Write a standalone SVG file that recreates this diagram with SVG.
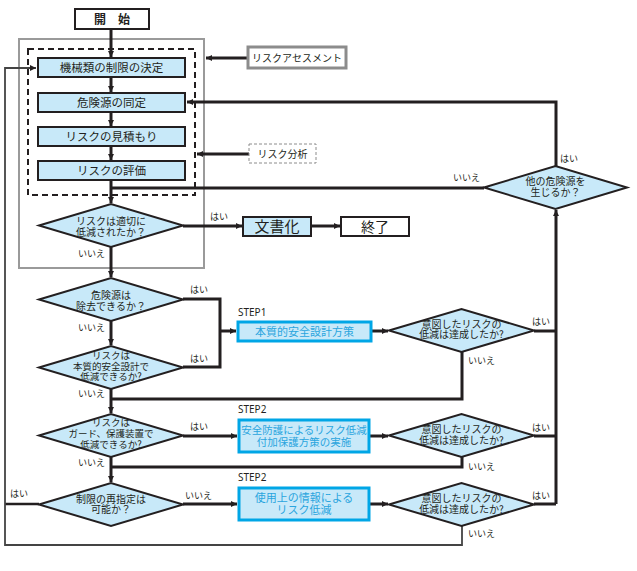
<svg xmlns="http://www.w3.org/2000/svg" width="637" height="571" viewBox="0 0 637 571">
<defs>
<marker id="ah" markerUnits="userSpaceOnUse" markerWidth="7" markerHeight="7" refX="6" refY="3" orient="auto">
<path d="M0,0 L6,3 L0,6 z" fill="#231f20"/>
</marker>
<style>
.box{fill:#c8e9f9;stroke:#231f20;stroke-width:2}
.wbox{fill:#ffffff;stroke:#231f20;stroke-width:2}
.sbox{fill:#c8e9f9;stroke:#00a6e6;stroke-width:3}
.dia{fill:#c8e9f9;stroke:#231f20;stroke-width:2}
.ln{fill:none;stroke:#231f20;stroke-width:3}
.thin{fill:none;stroke:#444;stroke-width:1.8}
text{font-family:"Noto Sans CJK JP","Noto Sans",sans-serif;fill:#231f20}
.t{font-size:11.5px;text-anchor:middle}
.d{font-size:10px;text-anchor:middle}
.d3{font-size:9.5px;text-anchor:middle}
.s{font-size:11px;text-anchor:middle;fill:#2aa5de}
.lb{font-size:9px}
.step{font-size:10px;font-family:"Noto Sans",sans-serif}
</style>
</defs>
<rect x="19" y="39" width="185" height="229" fill="none" stroke="#9a9a9a" stroke-width="2"/>
<rect x="28" y="49" width="167" height="146" fill="none" stroke="#231f20" stroke-width="2" stroke-dasharray="6 4"/>
<g id="connectors">
<path class="ln" d="M111,29 V57" marker-end="url(#ah)"/>
<path class="ln" d="M111,77 V92" marker-end="url(#ah)"/>
<path class="ln" d="M111,112 V126" marker-end="url(#ah)"/>
<path class="ln" d="M111,146 V160" marker-end="url(#ah)"/>
<path class="ln" d="M111,180 V203" marker-end="url(#ah)"/>
<path class="ln" d="M183,226 H242" marker-end="url(#ah)"/>
<path class="ln" d="M311,226 H340" marker-end="url(#ah)"/>
<path class="ln" d="M111,247 V277" marker-end="url(#ah)"/>
<path class="ln" d="M183,299 H220 V367 H183"/>
<path class="ln" d="M220,331 H236" marker-end="url(#ah)"/>
<path class="ln" d="M111,321 V345" marker-end="url(#ah)"/>
<path class="ln" d="M111,389 V413" marker-end="url(#ah)"/>
<path class="ln" d="M462,352 V399 H111"/>
<path class="ln" d="M372,331 H388" marker-end="url(#ah)"/>
<path class="ln" d="M534,331 H556"/>
<path class="ln" d="M556,504 V210" marker-end="url(#ah)"/>
<path class="ln" d="M556,166 V102 H187" marker-end="url(#ah)"/>
<path class="ln" d="M484,188 H111"/>
<path class="ln" d="M248,58 H206" marker-end="url(#ah)"/>
<path class="ln" d="M249,154 H197" marker-end="url(#ah)"/>
<path class="ln" d="M183,436 H237" marker-end="url(#ah)"/>
<path class="ln" d="M370,436 H388" marker-end="url(#ah)"/>
<path class="ln" d="M534,436 H556"/>
<path class="ln" d="M462,457 V467 H111"/>
<path class="ln" d="M111,457 V482" marker-end="url(#ah)"/>
<path class="ln" d="M183,504 H237" marker-end="url(#ah)"/>
<path class="ln" d="M370,504 H388" marker-end="url(#ah)"/>
<path class="ln" d="M534,504 H556"/>
<path class="ln" style="stroke-width:2.5" d="M39,504 H5"/>
<path class="thin" d="M462,526 V545 H5 V68 H36" marker-end="url(#ah)"/>
</g>
<g id="start"><rect class="wbox" x="75" y="9" width="74" height="20"/><text class="t" x="112" y="23.5" style="font-weight:bold;font-size:12px">開　始</text></g>
<g id="n1"><rect class="box" x="38" y="58" width="147" height="19"/><text class="t" x="111.5" y="71.5">機械類の制限の決定</text></g>
<g id="n2"><rect class="box" x="38" y="93" width="147" height="19"/><text class="t" x="111.5" y="106.5">危険源の同定</text></g>
<g id="n3"><rect class="box" x="38" y="127" width="147" height="19"/><text class="t" x="111.5" y="140.5">リスクの見積もり</text></g>
<g id="n4"><rect class="box" x="38" y="161" width="147" height="19"/><text class="t" x="111.5" y="174.5">リスクの評価</text></g>
<g id="ra"><rect x="248" y="47" width="98" height="21" fill="#fff" stroke="#8c8c8c" stroke-width="3"/><text class="d" x="297" y="61.5">リスクアセスメント</text></g>
<g id="rb"><rect x="249" y="144" width="67" height="19" fill="#fff" stroke="#8c8c8c" stroke-width="1" stroke-dasharray="3 2"/><text class="d" x="282.5" y="157.5">リスク分析</text></g>
<g id="dA"><polygon class="dia" points="39,225.5 111,204 183,225.5 111,247"/><text class="d" x="111" y="225">リスクは適切に</text><text class="d" x="111" y="236">低減されたか？</text></g>
<g id="doc"><rect class="box" x="243" y="217" width="68" height="19"/><text class="t" x="277" y="231.5" style="font-size:15px">文書化</text></g>
<g id="end"><rect class="wbox" x="341" y="217" width="68" height="19"/><text class="t" x="375" y="231.5" style="font-size:14px">終了</text></g>
<g id="dB"><polygon class="dia" points="39,299.5 111,278 183,299.5 111,321"/><text class="d" x="111" y="299">危険源は</text><text class="d" x="111" y="310">除去できるか？</text></g>
<g id="dC"><polygon class="dia" points="39,367.5 111,346 183,367.5 111,389"/><text class="d3" x="111" y="359">リスクは</text><text class="d3" x="111" y="369.5">本質的安全設計で</text><text class="d3" x="111" y="380">低減できるか?</text></g>
<g id="dD"><polygon class="dia" points="39,435.5 111,414 183,435.5 111,457"/><text class="d3" x="111" y="426">リスクは</text><text class="d3" x="111" y="437">ガード、保護装置で</text><text class="d3" x="111" y="447.5">低減できるか?</text></g>
<g id="dE"><polygon class="dia" points="39,504.5 111,483 183,504.5 111,526"/><text class="d" x="111" y="502.5">制限の再指定は</text><text class="d" x="111" y="513">可能か？</text></g>
<g id="s1"><rect class="sbox" x="238" y="322" width="133" height="19"/><text class="s" x="304.5" y="335.5">本質的安全設計方策</text></g>
<g id="s2"><rect class="sbox" x="239" y="420" width="130" height="32"/><text class="s" x="304" y="433.5" style="font-size:10.5px">安全防護によるリスク低減</text><text class="s" x="304" y="445.5" style="font-size:10.5px">付加保護方策の実施</text></g>
<g id="s3"><rect class="sbox" x="239" y="488" width="130" height="32"/><text class="s" x="304" y="502">使用上の情報による</text><text class="s" x="304" y="513.5">リスク低減</text></g>
<g id="r1"><polygon class="dia" points="389,330.5 461.5,309 534,330.5 461.5,352"/><text class="d" x="461.5" y="327.5">意図したリスクの</text><text class="d" x="461.5" y="338">低減は達成したか?</text></g>
<g id="r2"><polygon class="dia" points="389,435.5 461.5,414 534,435.5 461.5,457"/><text class="d" x="461.5" y="432.5">意図したリスクの</text><text class="d" x="461.5" y="444">低減は達成したか?</text></g>
<g id="r3"><polygon class="dia" points="389,504.5 461.5,483 534,504.5 461.5,526"/><text class="d" x="461.5" y="501.5">意図したリスクの</text><text class="d" x="461.5" y="512.5">低減は達成したか?</text></g>
<g id="dT"><polygon class="dia" points="484,187.5 555.5,166 627,187.5 555.5,209"/><text class="d" x="555.5" y="184.5">他の危険源を</text><text class="d" x="555.5" y="195.5">生じるか？</text></g>
<g id="labels">
<text class="step" x="238" y="316">STEP1</text>
<text class="step" x="238" y="413">STEP2</text>
<text class="step" x="238" y="481">STEP2</text>
<text class="lb" x="210" y="220">はい</text>
<text class="lb" x="78" y="256.5">いいえ</text>
<text class="lb" x="190" y="292.5">はい</text>
<text class="lb" x="78" y="330.5">いいえ</text>
<text class="lb" x="190" y="361.5">はい</text>
<text class="lb" x="78" y="396.5">いいえ</text>
<text class="lb" x="190" y="429.5">はい</text>
<text class="lb" x="78" y="465.5">いいえ</text>
<text class="lb" x="10" y="496.5">はい</text>
<text class="lb" x="185" y="498.5">いいえ</text>
<text class="lb" x="532" y="324.5">はい</text>
<text class="lb" x="468" y="363.5">いいえ</text>
<text class="lb" x="532" y="430.5">はい</text>
<text class="lb" x="468" y="469.5">いいえ</text>
<text class="lb" x="532" y="498.5">はい</text>
<text class="lb" x="468" y="536.5">いいえ</text>
<text class="lb" x="560" y="161.5">はい</text>
<text class="lb" x="453" y="180.5">いいえ</text>
</g>
</svg>
